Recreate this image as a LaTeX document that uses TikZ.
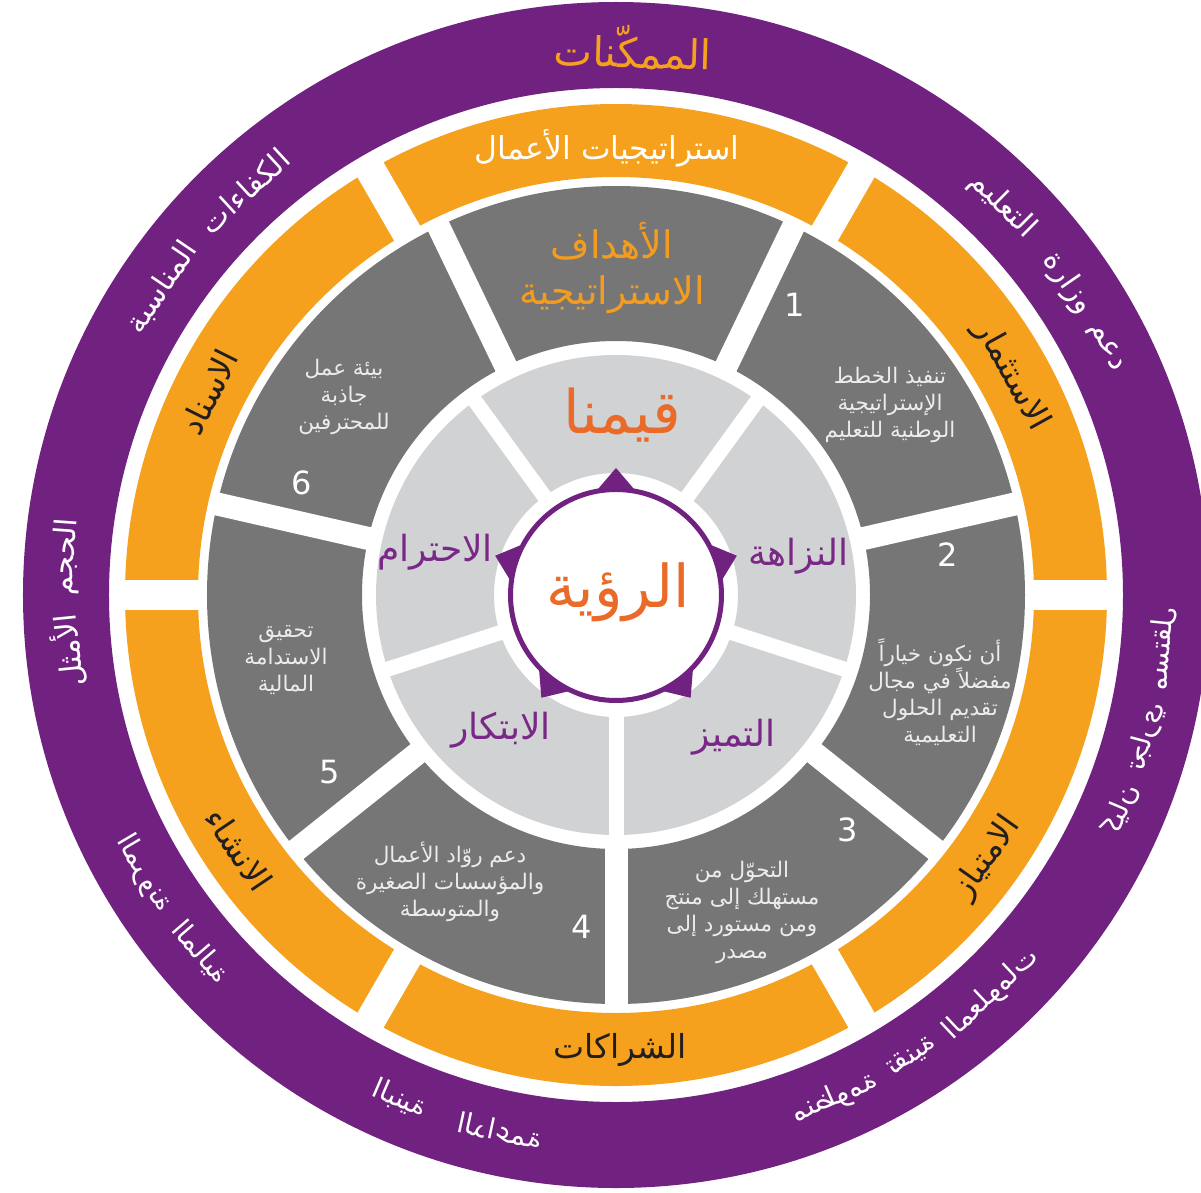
\documentclass[tikz,border=0pt]{standalone}
\usepackage{fontspec}
\TeXXeTstate=1
\newfontfamily\arabicfont[Script=Arabic]{DejaVu Sans}
\newfontfamily\numfont{DejaVu Sans}
\definecolor{purp}{RGB}{113,33,128}
\definecolor{orng}{RGB}{246,161,29}
\definecolor{dgray}{RGB}{118,118,118}
\definecolor{lgray}{RGB}{209,210,212}
\definecolor{vistxt}{RGB}{234,107,41}
\definecolor{goaltxt}{RGB}{243,156,31}
\definecolor{valtxt}{RGB}{122,40,135}
\definecolor{segtxtc}{RGB}{236,236,236}
\definecolor{darktxt}{RGB}{35,31,32}
\tikzset{
  ringtxt/.style={text=white, font=\fontsize{30}{34}\arabicfont, inner sep=0pt},
  mirtxt/.style={text=white, font=\fontsize{28}{32}\arabicfont, inner sep=0pt},
  bandtxt/.style={text=darktxt, font=\fontsize{33}{40}\arabicfont, inner sep=0pt},
  segtxt/.style={text=segtxtc, font=\fontsize{21.5}{27}\arabicfont, align=center, inner sep=0pt},
  numtxt/.style={text=white, font=\fontsize{32}{36}\numfont, inner sep=0pt},
  valuetxt/.style={text=valtxt, font=\fontsize{36}{40}\arabicfont, inner sep=0pt},
}
% word on the upper half of the ring (tops outward)
\newcommand\topword[4]{\node[ringtxt, rotate=#1-90] (#3) at (#1:#2) {\beginR #4\endR};}
% mirrored word on the lower half of the ring
\newcommand\mirword[4]{\begin{scope}[shift={(#1:#2)}, rotate=#1+90, xscale=-1]
  \node[mirtxt, transform shape] (#3) at (0,0) {\beginR #4\endR};\end{scope}}
\begin{document}
\begin{tikzpicture}[x=1pt,y=1pt]
\useasboundingbox (-616,-597) rectangle (585,595);
\fill[white] (-616,-597) rectangle (585,595);
% rings
\fill[purp, even odd rule] (0,0) circle (593) (0,0) circle (507);
\fill[orng, even odd rule] (0,0) circle (491) (0,0) circle (418);
\foreach \a in {0,60,...,300} \draw[white, line width=30] (\a:412) -- (\a:499);
\fill[dgray, even odd rule] (0,0) circle (409) (0,0) circle (254);
\foreach \k in {0,...,6} \draw[white, line width=23] ({115.714+51.4286*\k}:248) -- ({115.714+51.4286*\k}:414);
\fill[lgray, even odd rule] (0,0) circle (240) (0,0) circle (122);
\foreach \a in {54,126,198,270,342} \draw[white, line width=15] (\a:118) -- (\a:245);
% centre
\foreach \a in {90,162,234,306,18} \fill[purp] (\a:127) -- ({\a+16}:99) -- ({\a-16}:99) -- cycle;
\draw[purp, line width=5, fill=white] (0,0) circle (105.5);
\node[text=vistxt, font=\fontsize{59}{64}\arabicfont, inner sep=0pt] (vision) at (2,3) {\beginR الرؤية\endR};
% values
\node[text=vistxt, font=\fontsize{60}{64}\arabicfont, inner sep=0pt] (values) at (6,180) {\beginR قيمنا\endR};
\node[valuetxt] (v1) at (182,39) {\beginR النزاهة\endR};
\node[valuetxt] (v2) at (118,-142) {\beginR التميز\endR};
\node[valuetxt] (v3) at (-115,-135) {\beginR الابتكار\endR};
\node[valuetxt] (v4) at (-181,43) {\beginR الاحترام\endR};
% goals
\node[text=goaltxt, font=\fontsize{38}{46}\arabicfont, align=center, inner sep=0pt] (goals) at (-4,327) {\beginR الأهداف\endR\\\beginR الاستراتيجية\endR};
\node[segtxt] (g1) at (274,190) {\beginR تنفيذ الخطط\endR\\\beginR الإستراتيجية\endR\\\beginR الوطنية للتعليم\endR};
\node[numtxt] (n1) at (179,290) {1};
\node[segtxt] (g2) at (324,-97) {\beginR أن نكون خياراً\endR\\\beginR مفضلاً في مجال\endR\\\beginR تقديم الحلول\endR\\\beginR التعليمية\endR};
\node[numtxt] (n2) at (332,40) {2};
\node[segtxt] (g3) at (126,-317) {\beginR التحوّل من\endR\\\beginR مستهلك إلى منتج\endR\\\beginR ومن مستورد إلى\endR\\\beginR مصدر\endR};
\node[numtxt] (n3) at (232,-235) {3};
\node[segtxt] (g4) at (-166,-287) {\beginR دعم روّاد الأعمال\endR\\\beginR والمؤسسات الصغيرة\endR\\\beginR والمتوسطة\endR};
\node[numtxt] (n4) at (-34,-332) {4};
\node[segtxt] (g5) at (-330,-65) {\beginR تحقيق\endR\\\beginR الاستدامة\endR\\\beginR المالية\endR};
\node[numtxt] (n5) at (-286,-177) {5};
\node[segtxt] (g6) at (-272,198) {\beginR بيئة عمل\endR\\\beginR جاذبة\endR\\\beginR للمحترفين\endR};
\node[numtxt] (n6) at (-314,112) {6};
% business strategies
\node[text=white, font=\fontsize{31.5}{36}\arabicfont, inner sep=0pt] (bs) at (-9,447) {\beginR استراتيجيات الأعمال\endR};
\node[bandtxt, rotate=-61] (b1) at (29:452) {\beginR الاستثمار\endR};
\node[bandtxt, rotate=54.7] (b2) at (-35.3:455) {\beginR الامتياز\endR};
\node[bandtxt] (b3) at (4,-455) {\beginR الشراكات\endR};
\node[bandtxt, rotate=-56] (b4) at (-146:455) {\beginR الانشاء\endR};
\node[bandtxt, rotate=63.5] (b5) at (153.5:455) {\beginR الاسناد\endR};
% enablers
\node[text=orng, font=\fontsize{41}{46}\arabicfont, inner sep=0pt, rotate=-1.7] (en) at (17,548) {\beginR الممكّنات\endR};
\topword{45.2}{549}{e1a}{التعليم}
\topword{34.6}{549}{e1b}{وزارة}
\topword{26.8}{549}{e1c}{دعم}
\topword{132.6}{549}{e2a}{الكفاءات}
\topword{145.9}{549}{e2b}{المناسبة}
\topword{176.0}{551}{e3a}{الحجم}
\topword{185.8}{551}{e3b}{الأمثل}
\mirword{-5.6}{548}{e4a}{مستقل}
\mirword{-15.0}{548}{e4b}{تجاري}
\mirword{-23.0}{548}{e4c}{كيان}
\mirword{-66.5}{548}{e5a}{منظومة}
\mirword{-57.3}{548}{e5b}{تقنية}
\mirword{-46.8}{548}{e5c}{المعلومات}
\mirword{-113.2}{548}{e6a}{البنية}
\mirword{-102.2}{548}{e6b}{الداعمة}
\mirword{-149.5}{548}{e7a}{المرونة}
\mirword{-139.3}{548}{e7b}{المالية}
\end{tikzpicture}
\end{document}
